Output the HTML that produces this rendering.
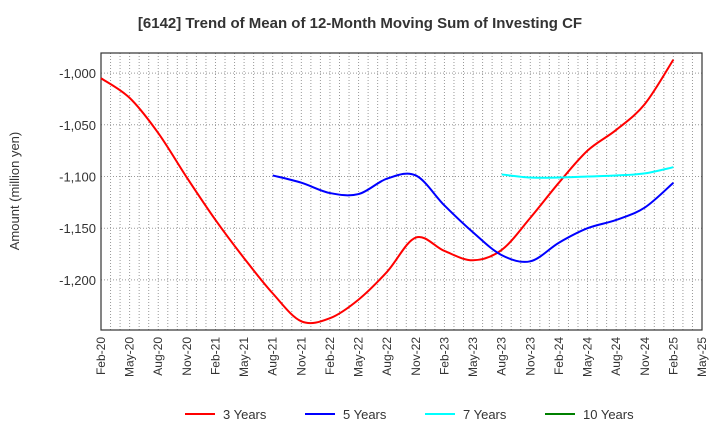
<!DOCTYPE html>
<html><head><meta charset="utf-8"><style>
body{margin:0;background:#fff;font-family:"Liberation Sans",Arial,sans-serif}
svg text{font-family:"Liberation Sans",Arial,sans-serif}
</style></head><body>
<svg id="chart" width="720" height="440" xmlns="http://www.w3.org/2000/svg">
<text x="360" y="28" text-anchor="middle" font-size="15" font-weight="bold" fill="#333">[6142]  Trend of Mean of 12-Month Moving Sum of Investing CF</text>
<text transform="translate(19,191) rotate(-90)" text-anchor="middle" font-size="13" fill="#333">Amount (million yen)</text>
<g id="grid"></g><g id="axes"></g><g id="series"></g><g id="legend"></g>
</svg>
<script>
const xLabels=["Feb-20","May-20","Aug-20","Nov-20","Feb-21","May-21","Aug-21","Nov-21","Feb-22","May-22","Aug-22","Nov-22","Feb-23","May-23","Aug-23","Nov-23","Feb-24","May-24","Aug-24","Nov-24","Feb-25","May-25"];
const yTicks=[-1000,-1050,-1100,-1150,-1200];
const yTickLabels=["-1,000","-1,050","-1,100","-1,150","-1,200"];
const seriesNames=["3 Years","5 Years","7 Years","10 Years"];
// month index from Feb-20
const red3Idx=[0,3,6,9,12,15,18,21,24,27,30,33,36,39,42,45,48,51,54,57,60];
const red3Val=[-1005,-1024,-1058,-1101,-1142,-1179,-1213,-1240,-1237,-1219,-1192,-1159,-1172,-1181,-1171,-1140,-1106,-1075,-1055,-1030,-987];
const blue5Idx=[18,21,24,27,30,33,36,39,42,45,48,51,54,57,60];
const blue5Val=[-1099,-1106,-1116,-1117,-1102,-1099,-1128,-1154,-1176,-1182,-1164,-1150,-1142,-1130,-1106];
const cyan7Idx=[42,45,48,51,54,57,60];
const cyan7Val=[-1098,-1101,-1101,-1100,-1099,-1097,-1091];
const L=101,R=702,T=53,B=330,ymin=-1248.4,ymax=-980.6,months=63;
const xs=i=>L+(R-L)*i/months, ys=v=>B-(B-T)*(v-ymin)/(ymax-ymin);
const NS="http://www.w3.org/2000/svg";
function mk(tag,attrs,parent){const e=document.createElementNS(NS,tag);for(const k in attrs)e.setAttribute(k,attrs[k]);parent.appendChild(e);return e;}
const g=document.getElementById('grid'),ax=document.getElementById('axes'),sg=document.getElementById('series'),lg=document.getElementById('legend');
for(let m=1;m<months;m++){const l=mk('line',{x1:xs(m),x2:xs(m),y1:T,y2:B,stroke:'#999','stroke-dasharray':'1,2','stroke-width':1},g);

}
yTicks.forEach((v,i)=>{const l=mk('line',{x1:L,x2:R,y1:ys(v),y2:ys(v),stroke:'#999','stroke-dasharray':'1,2'},g);


const t=mk('text',{x:L-5,y:ys(v)+5,'text-anchor':'end','font-size':13,fill:'#333'},ax);t.textContent=yTickLabels[i];

});
const fr=mk('rect',{x:L,y:T,width:R-L,height:B-T,fill:'none',stroke:'#333','stroke-width':1.2},ax);


xLabels.forEach((s,i)=>{const x=xs(i*3);const t=mk('text',{transform:`translate(${x+4},${B+7}) rotate(-90)`,'text-anchor':'end','font-size':12,fill:'#333'},ax);t.textContent=s;

});
function path(idx,val,color,name){const p=idx.map((m,i)=>[xs(m),ys(val[i])]);let d=`M${p[0][0]},${p[0][1]}`;
for(let i=0;i<p.length-1;i++){const p0=p[i-1]||p[i],p1=p[i],p2=p[i+1],p3=p[i+2]||p2;
d+=` C${p1[0]+(p2[0]-p0[0])/6},${p1[1]+(p2[1]-p0[1])/6} ${p2[0]-(p3[0]-p1[0])/6},${p2[1]-(p3[1]-p1[1])/6} ${p2[0]},${p2[1]}`;}
const e=mk('path',{d,fill:'none',stroke:color,'stroke-width':2},sg);

}
path(red3Idx,red3Val,'#ff0000','line-3-years');
path(blue5Idx,blue5Val,'#0000ff','line-5-years');
path(cyan7Idx,cyan7Val,'#00ffff','line-7-years');
const lc=['#ff0000','#0000ff','#00ffff','#008000'],lx=[185,305,425,545];
seriesNames.forEach((n,i)=>{const l=mk('line',{x1:lx[i],x2:lx[i]+30,y1:414,y2:414,stroke:lc[i],'stroke-width':2},lg);


const t=mk('text',{x:lx[i]+38,y:419,'font-size':13,fill:'#333'},lg);t.textContent=n;

});
</script>
</body></html>
